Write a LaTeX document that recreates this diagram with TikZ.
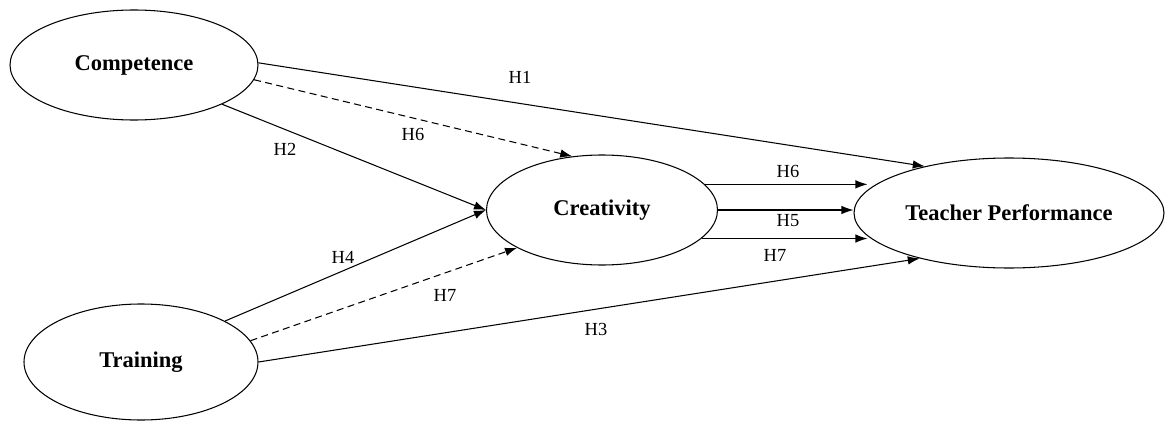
\documentclass[tikz,border=0pt]{standalone}
\usepackage{fontspec}
\setmainfont{Liberation Serif}
\usetikzlibrary{shapes,arrows.meta}

\tikzset{
  construct/.style={draw,ellipse,line width=0.6pt,inner sep=0pt,font=\fontsize{12.8}{15}\selectfont\bfseries},
  path/.style={line width=0.6pt,-{Latex[length=2.4mm,width=1.7mm]}},
  mediated/.style={path,dash pattern=on 4pt off 2.5pt},
  hyp/.style={font=\fontsize{10.5}{12}\selectfont,inner sep=0pt}
}

\begin{document}
\begin{tikzpicture}[x=0.2mm,y=-0.2mm]
            \useasboundingbox (0,0) rectangle (1166,422);
            % constructs
            \node[construct,minimum width=49.6mm,minimum height=22mm] (comp) at (134,65) {Competence};
            \node[construct,minimum width=46.8mm,minimum height=23.2mm] (train) at (141,362) {Training};
            \node[construct,minimum width=46.2mm,minimum height=22mm] (crea) at (602,210) {Creativity};
            \node[construct,minimum width=62mm,minimum height=22mm] (tp) at (1009,213) {Teacher Performance};
            % direct paths
            \draw[path] (comp.1) -- (tp.151);
            \draw[path] (comp.-24) -- (crea.west);
            \draw[path] (train.26) -- (crea.west);
            \draw[path] (train.east) -- (tp.207);
            % mediated paths
            \draw[mediated] (comp.-7) -- (crea.119);
            \draw[mediated] (train.11) -- (crea.204);
            % creativity to performance
            \draw[path] (crea.14) -- ([xshift=2.8mm]crea.14 -| tp.west);
            \draw[path] (crea.east) -- (crea.east -| tp.west);
            \draw[path] (crea.-16) -- ([xshift=2.8mm]crea.-16 -| tp.west);
            % hypothesis labels
            \node[hyp] (h1) at (520,77) {H1};
            \node[hyp] (h6a) at (413,134) {H6};
            \node[hyp] (h2) at (285,149) {H2};
            \node[hyp] (h4) at (343,257) {H4};
            \node[hyp] (h7a) at (445,295) {H7};
            \node[hyp] (h3) at (596,329) {H3};
            \node[hyp] (h6b) at (788,171) {H6};
            \node[hyp] (h5) at (788,221) {H5};
            \node[hyp] (h7b) at (775,255) {H7};
\end{tikzpicture}
\end{document}
